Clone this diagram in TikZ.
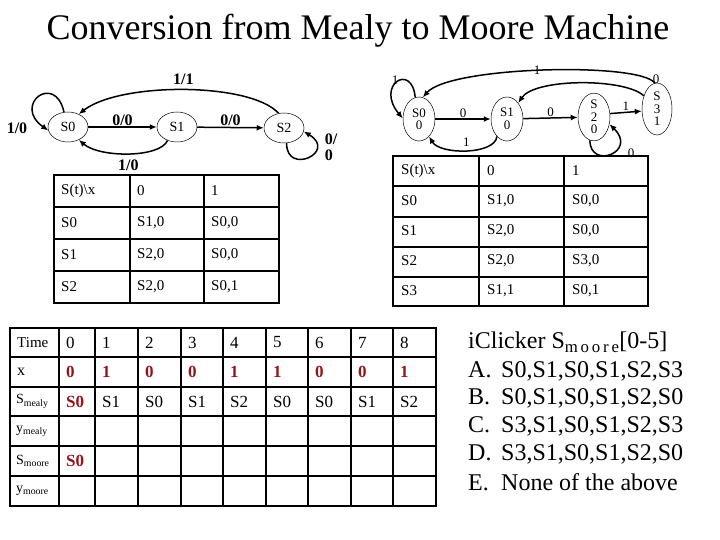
\documentclass[tikz,border=0pt]{standalone}
\usepackage{fontspec}
\setmainfont{Liberation Serif}
\usetikzlibrary{shapes.geometric, arrows.meta, positioning}
\definecolor{ansred}{RGB}{150,20,30}
\tikzset{
  mstate/.style={ellipse, draw, line width=0.5pt, minimum width=40pt,
                 minimum height=30pt, inner sep=0pt, font=\fontsize{14}{14}\selectfont},
  ostate/.style={ellipse, draw, line width=0.5pt, minimum width=32pt,
                 minimum height=44pt, inner sep=0pt, align=center,
                 font=\fontsize{13}{12.5}\selectfont},
  arrow/.style={-{Latex[length=7pt,width=6pt]}, line width=1.5pt},
  elabel/.style={font=\fontsize{16}{16}\selectfont\bfseries, inner sep=1pt},
  olabel/.style={font=\fontsize{13}{13}\selectfont, inner sep=1pt},
  grid/.style={line width=1.6pt},
  cell/.style={anchor=west, inner sep=0pt, font=\fontsize{15}{15}\selectfont},
  tcell/.style={anchor=west, inner sep=0pt, font=\fontsize{17}{17}\selectfont},
  rowlab/.style={anchor=west, inner sep=0pt, font=\fontsize{14}{14}\selectfont},
  answer/.style={text=ansred, font=\fontsize{17}{17}\selectfont\bfseries},
  quiz/.style={anchor=west, inner sep=0pt, font=\fontsize{24}{24}\selectfont},
}

\begin{document}
\begin{tikzpicture}[x=1pt, y=-1pt]
  \useasboundingbox (0,0) rectangle (720,540);

  \node[font=\fontsize{36}{36}\selectfont] (title) at (358,31)
    {Conversion from Mealy to Moore Machine};

  % Mealy machine
  \node[mstate] (a0) at (68,127)  {S0};
  \node[mstate] (a1) at (177,127) {S1};
  \node[mstate] (a2) at (284,128) {S2};

  \draw[arrow] (a0) -- node[elabel, above] {0/0} (a1);
  \draw[arrow] (a1) -- node[elabel, above] {0/0} (a2);
  \draw[arrow] (a2.110) .. controls (250,82) and (120,82) .. (a0.50)
    node[elabel, pos=0.5, above=4pt] {1/1};
  \draw[arrow] (a1.235) .. controls (160,158) and (100,158) .. (a0.-50)
    node[elabel, pos=0.5, below=5pt] {1/0};
  \draw[arrow] (a0.105) .. controls (55,72) and (12,105) .. (a0.190);
  \node[elabel] (l00) at (17,128) {1/0};
  \draw[arrow] (a2.-80) .. controls (286,176) and (338,152) .. (a2.-10);
  \node[elabel, align=left] (l22) at (331,147) {0/\\0};

  % Mealy table
  \draw[grid] (54,175) rectangle (279,303);
  \foreach \x in {130,204} \draw[grid] (\x,175) -- (\x,303);
  \foreach \y in {207,239,271} \draw[grid] (54,\y) -- (279,\y);
  \foreach \a/\b/\c [count=\r from 0] in
      {S(t)\textbackslash x/0/1, S0/{S1,0}/{S0,0}, S1/{S2,0}/{S0,0}, S2/{S2,0}/{S0,1}} {
    \node[cell] (ma-\r) at (61,191+32*\r)  {\a};
    \node[cell] (mb-\r) at (137,191+32*\r) {\b};
    \node[cell] (mc-\r) at (211,191+32*\r) {\c};
  }

  % Moore machine
  \node[ostate] (b0) at (419,119) {S0\\0};
  \node[ostate] (b1) at (507,119) {S1\\0};
  \node[ostate] (b2) at (594,117) {S\\2\\0};
  \node[ostate, minimum width=30pt, minimum height=52pt] (b3) at (657,109) {S\\3\\1};

  \draw[arrow] (b0) -- node[olabel, above] {0} (b1);
  \draw[arrow] (b1) -- node[olabel, above] {0} (b2);
  \draw[arrow] (b2.12) -- node[olabel, above] {1} (b3.188);
  \draw[arrow] (b1.240) .. controls (495,155) and (440,155) .. (b0.-60)
    node[olabel, pos=0.5, above=2pt] {1};
  \draw[arrow] (b0.100) .. controls (412,62) and (375,85) .. (b0.178);
  \node[olabel] (l0) at (395,80) {1};
  \draw[arrow] (b3.95) .. controls (640,62) and (450,66) .. (b0.80);
  \node[olabel] (l30) at (537,70) {1};
  \draw[arrow] (b3.135) .. controls (625,78) and (535,78) .. (b1.55);
  \node[olabel] (l31) at (656,79) {0};
  \draw[arrow] (b2.-100) .. controls (590,170) and (638,152) .. (b2.-25);
  \node[olabel] (l2) at (631,153) {0};

  % Moore table
  \draw[grid] (393,156) rectangle (648,306);
  \foreach \x in {479,564} \draw[grid] (\x,156) -- (\x,306);
  \foreach \y in {186,217,247,277} \draw[grid] (393,\y) -- (648,\y);
  \foreach \a/\b/\c [count=\r from 0] in
      {S(t)\textbackslash x/0/1, S0/{S1,0}/{S0,0}, S1/{S2,0}/{S0,0},
       S2/{S2,0}/{S3,0}, S3/{S1,1}/{S0,1}} {
    \node[cell] (oa-\r) at (401,171+30*\r) {\a};
    \node[cell] (ob-\r) at (487,171+30*\r) {\b};
    \node[cell] (oc-\r) at (572,171+30*\r) {\c};
  }

  % trace table
  \draw[grid] (10,328) rectangle (436,506);
  \foreach \x in {59,95,138,181,223,266,308,351,393} \draw[grid] (\x,328) -- (\x,506);
  \foreach \y in {357,387,416,446,476} \draw[grid] (10,\y) -- (436,\y);

  \node[rowlab, font=\fontsize{15}{15}\selectfont] (rtime) at (17,342.5) {Time};
  \node[rowlab, font=\fontsize{16}{16}\selectfont] (rx) at (17,372) {x};
  \node[rowlab] (rsme) at (16,401.5) {S\textsubscript{mealy}};
  \node[rowlab] (ryme) at (16,431) {y\textsubscript{mealy}};
  \node[rowlab] (rsmo) at (16,461) {S\textsubscript{moore}};
  \node[rowlab] (rymo) at (16,491) {y\textsubscript{moore}};

  \foreach \xl/\xv/\s [count=\i from 0] in
      {59/0/, 95/1/S1, 138/0/S0, 181/0/S1, 223/1/S2, 266/1/S0, 308/0/S0, 351/0/S1, 393/1/S2} {
    \node[tcell] (t-\i) at (\xl+7,342.5) {\i};
    \node[tcell, answer] (x-\i) at (\xl+7,372) {\xv};
    \node[tcell] (s-\i) at (\xl+7,401.5) {\s};
  }
  \node[tcell, answer] (s0) at (66,401.5) {S0};
  \node[tcell, answer] (m0) at (66,461) {S0};

  % question
  \node[quiz] (q) at (468,342)
    {iClicker S\textsubscript{m\,o\,o\,r\,e}[0-5]};
  \foreach \k/\txt [count=\j from 0] in
      {A/{S0,S1,S0,S1,S2,S3}, B/{S0,S1,S0,S1,S2,S0}, C/{S3,S1,S0,S1,S2,S3},
       D/{S3,S1,S0,S1,S2,S0}, E/None of the above} {
    \node[quiz] (opt-\k) at (468,371+27.8*\j) {\makebox[33pt][l]{\k.}\txt};
  }
\end{tikzpicture}
\end{document}
